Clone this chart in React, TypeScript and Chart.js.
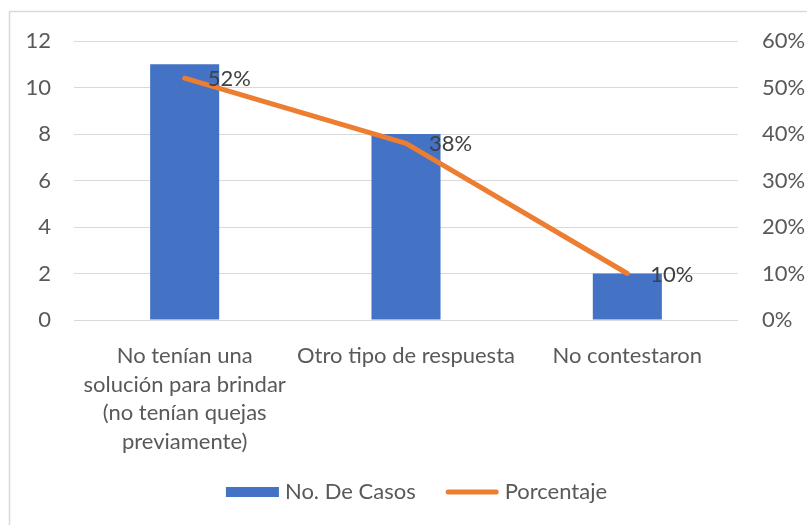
import React, { useEffect, useRef } from "react";
import { Chart, registerables } from "chart.js";

Chart.register(...registerables);

const categories: string[][] = [
  ["No tenían una", "solución para brindar", "(no tenían quejas", "previamente)"],
  ["Otro tipo de respuesta"],
  ["No contestaron"],
];
const casos: number[] = [11, 8, 2];
const porcentaje: number[] = [0.52, 0.38, 0.1];
const leftTicks = { min: 0, max: 12, step: 2 };
const rightTicks = { min: 0, max: 0.6, step: 0.1 };

const FONT = "Lato, 'Open Sans', sans-serif";
const FS = 22;
const BLUE = "#4472C4";
const ORANGE = "#ED7D31";

const pct = (v: number) => `${Math.round(v * 100)}%`;

const borderPlugin = {
  id: "excelBorder",
  beforeDraw(chart: any) {
    const ctx = chart.ctx;
    ctx.save();
    ctx.strokeStyle = "#d9d9d9";
    ctx.lineWidth = 1.5;
    ctx.beginPath();
    ctx.moveTo(9.5, chart.height + 5);
    ctx.lineTo(9.5, 11.5);
    ctx.lineTo(chart.width + 5, 11.5);
    ctx.stroke();
    ctx.restore();
  },
};

const labelPlugin = {
  id: "pctLabels",
  afterDatasetsDraw(chart: any) {
    const ctx = chart.ctx;
    chart.data.datasets.forEach((ds: any, i: number) => {
      if (ds.type !== "line") return;
      const meta = chart.getDatasetMeta(i);
      ctx.save();
      ctx.font = `${FS}px ${FONT}`;
      ctx.fillStyle = "#404040";
      ctx.textAlign = "left";
      ctx.textBaseline = "middle";
      meta.data.forEach((el: any, j: number) => {
        ctx.fillText(pct(ds.data[j]), el.x + 23, el.y + 1);
      });
      ctx.restore();
    });
  },
};

const legendPlugin = {
  id: "customLegend",
  afterDraw(chart: any) {
    const ctx = chart.ctx;
    const y = 492;
    const sym = 53;
    const gapSym = 6;
    const gapItem = 30;
    ctx.save();
    ctx.font = `${FS}px ${FONT}`;
    const items = [...chart.data.datasets]
      .sort((a: any, b: any) => (a.type === "bar" ? -1 : 1) - (b.type === "bar" ? -1 : 1))
      .map((ds: any) => ({ ds, w: ctx.measureText(ds.label).width }));
    const total = items.reduce((s, it) => s + sym + gapSym + it.w, 0) + gapItem * (items.length - 1);
    let x = 416.5 - total / 2;
    items.forEach(({ ds, w }) => {
      if (ds.type === "bar") {
        ctx.fillStyle = ds.backgroundColor;
        ctx.fillRect(x, y - 5, sym, 10);
      } else {
        ctx.strokeStyle = ds.borderColor;
        ctx.lineWidth = 5;
        ctx.lineCap = "round";
        ctx.beginPath();
        ctx.moveTo(x + 2.5, y);
        ctx.lineTo(x + sym - 2.5, y);
        ctx.stroke();
      }
      ctx.fillStyle = "#595959";
      ctx.textAlign = "left";
      ctx.textBaseline = "middle";
      ctx.fillText(ds.label, x + sym + gapSym, y);
      x += sym + gapSym + w + gapItem;
    });
    ctx.restore();
  },
};

export default function App() {
  const ref = useRef<HTMLCanvasElement | null>(null);
  useEffect(() => {
    if (!ref.current) return;
    const tickFont = { family: FONT, size: FS, lineHeight: 28.5 / FS };
    const chart = new Chart(ref.current, {
      type: "bar",
      data: {
        labels: categories,
        datasets: [
          {
            type: "line",
            label: "Porcentaje",
            data: porcentaje,
            yAxisID: "y1",
            borderColor: ORANGE,
            backgroundColor: ORANGE,
            borderWidth: 5,
            borderCapStyle: "round",
            borderJoinStyle: "round",
            pointRadius: 0,
            tension: 0,
            order: 0,
          } as any,
          {
            type: "bar",
            label: "No. De Casos",
            data: casos,
            yAxisID: "y",
            backgroundColor: BLUE,
            categoryPercentage: 1,
            barPercentage: 0.312,
            order: 1,
          } as any,
        ],
      },
      options: {
        responsive: false,
        animation: false,
        events: [],
        layout: { padding: { top: 41, left: 0, right: 0, bottom: 0 } },
        plugins: { legend: { display: false }, tooltip: { enabled: false } },
        scales: {
          x: {
            grid: { display: false },
            border: { display: false },
            ticks: {
              color: "#595959",
              font: tickFont,
              padding: 14,
              maxRotation: 0,
              autoSkip: false,
            },
            afterFit: (s: any) => {
              s.height = 205;
            },
          },
          y: {
            position: "left",
            min: leftTicks.min,
            max: leftTicks.max,
            grid: { color: "#d9d9d9", lineWidth: 1, drawTicks: false },
            border: { display: false },
            ticks: { stepSize: leftTicks.step, color: "#595959", font: tickFont, padding: 23 },
            afterFit: (s: any) => {
              s.width = 74;
            },
          },
          y1: {
            position: "right",
            min: rightTicks.min,
            max: rightTicks.max,
            grid: { display: false, drawTicks: false },
            border: { display: false },
            ticks: {
              stepSize: rightTicks.step,
              color: "#595959",
              font: tickFont,
              padding: 24,
              callback: (v: any) => pct(Number(v)),
            },
            afterFit: (s: any) => {
              s.width = 69;
            },
          },
        },
      },
      plugins: [borderPlugin, labelPlugin, legendPlugin],
    });
    return () => chart.destroy();
  }, []);
  return (
    <div style={{ position: "fixed", left: 0, top: 0, width: 807, height: 525, background: "#fff" }}>
      <canvas ref={ref} width={807} height={525} style={{ width: 807, height: 525, display: "block" }} />
    </div>
  );
}
